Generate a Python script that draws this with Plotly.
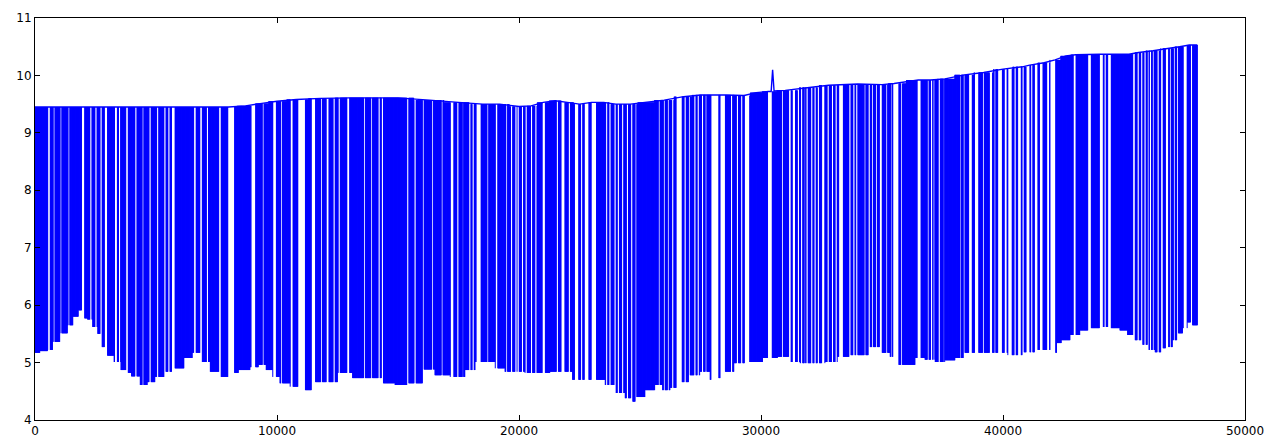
import numpy as np
import plotly.graph_objects as go

# ---- data ----
# upper envelope of the signal (x, value)
top_x = [0, 8000, 8700, 9300, 10000, 10800, 11800, 13000, 15000, 16300, 17500, 18500,
         19200, 20000, 20500, 21000, 21500, 22000, 22500, 23000, 23500, 24000, 24600,
         25200, 26000, 26800, 27500, 28500, 29300, 29800, 30300, 31000, 32000, 32800,
         34000, 35000, 35500, 36500, 37000, 37600, 38400, 39200, 40000, 40800, 41100,
         41700, 42150, 42600, 43000, 44000, 45200, 45600, 46200, 46800, 47300, 47700, 48030]
top_y = [9.45, 9.45, 9.47, 9.51, 9.55, 9.58, 9.60, 9.61, 9.61, 9.57, 9.53, 9.50,
         9.50, 9.46, 9.47, 9.53, 9.56, 9.53, 9.50, 9.53, 9.53, 9.50, 9.50,
         9.53, 9.57, 9.63, 9.66, 9.66, 9.65, 9.70, 9.72, 9.74, 9.79, 9.83,
         9.85, 9.84, 9.86, 9.92, 9.92, 9.94, 10.01, 10.05, 10.11, 10.15, 10.18,
         10.22, 10.27, 10.34, 10.36, 10.37, 10.37, 10.40, 10.43, 10.47, 10.50, 10.53, 10.53]

# short spike near x = 30500
spike_x = [30420, 30480, 30540]
spike_y = [9.72, 10.10, 9.73]

# lower envelope of the signal (x, value)
bot_x = [0, 413, 620, 826, 1240, 1446, 1694, 1900, 2066, 2273, 2480, 2686, 2810, 3099,
         3430, 3678, 3843, 4132, 4545, 4752, 5165, 5578, 5909, 6405, 6611, 7024, 7438,
         7851, 8140, 8677, 9090, 9380, 9710, 9917, 10330, 10743, 11363, 11776, 12189,
         12809, 13429, 14049, 14669, 15082, 15702, 16321, 16735, 17561, 17974, 18387,
         18801, 19214, 19627, 20040, 20453, 21073, 21486, 21900, 22519, 22933, 23346,
         23759, 24172, 24585, 24709, 25000, 25413, 25826, 26033, 26446, 26860, 27273,
         27686, 28099, 28388, 28636, 29132, 29752, 30372, 30992, 31405, 31818, 32438,
         32851, 33471, 33884, 34298, 34711, 35124, 35537, 35744, 36157, 36570, 36983,
         37397, 37810, 38223, 38636, 39256, 39876, 40496, 41115, 41735, 42149, 42273,
         42562, 42975, 43388, 43802, 44215, 44628, 45041, 45248, 45661, 45868, 46074,
         46487, 46694, 46901, 47107, 47314, 47521, 47727, 47934]
bot_y = [5.17, 5.20, 5.22, 5.36, 5.51, 5.65, 5.80, 5.91, 5.77, 5.75, 5.62, 5.50, 5.27, 5.12,
         5.01, 4.87, 4.82, 4.76, 4.61, 4.66, 4.75, 4.84, 4.90, 5.08, 5.17, 5.01, 4.84,
         4.75, 4.82, 4.87, 4.92, 4.96, 4.87, 4.75, 4.64, 4.58, 4.52, 4.66, 4.66,
         4.82, 4.73, 4.73, 4.64, 4.61, 4.64, 4.88, 4.78, 4.75, 4.87, 5.01,
         5.01, 4.90, 4.84, 4.84, 4.82, 4.82, 4.84, 4.84, 4.70, 4.70, 4.70,
         4.61, 4.47, 4.38, 4.32, 4.40, 4.52, 4.61, 4.52, 4.56, 4.66, 4.78,
         4.84, 4.70, 4.73, 4.84, 4.99, 5.01, 5.08, 5.10, 5.01, 4.99, 4.99,
         5.01, 5.10, 5.13, 5.13, 5.27, 5.17, 5.10, 4.96, 4.96, 5.08, 5.05,
         5.01, 5.04, 5.08, 5.17, 5.17, 5.17, 5.13, 5.18, 5.22, 5.17, 5.34,
         5.39, 5.48, 5.56, 5.60, 5.62, 5.60, 5.56, 5.48, 5.39, 5.31, 5.22,
         5.18, 5.25, 5.27, 5.39, 5.51, 5.60, 5.70, 5.65]

# stretches where the signal stays on the upper envelope (white stripes), (start, end)
gaps = [(548, 610), (775, 795), (1064, 1085), (1395, 1415), (1942, 2025), (2293, 2335),
        (2500, 2541), (2706, 2748), (2892, 2975), (3306, 3388), (3471, 3512), (3770, 3833),
        (4153, 4194), (4442, 4483), (4731, 4773), (5049, 5091), (5347, 5396), (5520, 5553),
        (5669, 5768), (6586, 6636), (6834, 6884), (7099, 7140), (7620, 7669), (7996, 8223),
        (8954, 9090), (9421, 9446), (9847, 9958), (10181, 10206), (10566, 10648),
        (10880, 11157), (11433, 11570), (11835, 11860), (12053, 12119),
        (12334, 12375), (12553, 12594), (12913, 12974), (13594, 13619), (13892, 13933),
        (14206, 14247), (14330, 14371), (15380, 15421), (15681, 15722), (16032, 16057),
        (16412, 16453), (16805, 16830), (17177, 17284), (17458, 17499), (17672, 17697),
        (17954, 17995), (18090, 18131), (18251, 18416), (18705, 18730), (19049, 19103),
        (19478, 19503), (19677, 19718), (19855, 19896), (19949, 19990), (20131, 20172),
        (20268, 20309),
        (20503, 20545), (20676, 20726), (20978, 21073), (21561, 21602), (21763, 21870),
        (22057, 22098), (22313, 22449), (22569, 22610), (22726, 22862), (23003, 23181),
        (23602, 23643), (23739, 23780), (23945, 23986), (24082, 24123), (24264, 24305),
        (24454, 24495),
        (24635, 24676), (24820, 24845), (25784, 25809), (25982, 26023), (26156, 26181),
        (26329, 26371), (26515, 26721), (26838, 26879), (27023, 27048), (27251, 27292),
        (27387, 27428), (27569, 27610), (27713, 27738), (27961, 28234), (28333, 28511),
        (28767, 28808), (28999, 29040), (29181, 29222), (29337, 29515), (30300, 30440),
        (30882, 30907), (31166, 31228), (31307, 31402), (31519, 31560), (31659, 31700),
        (31803, 31828), (31891, 31932), (32073, 32114), (32210, 32251), (32347, 32388),
        (32528, 32623), (32760, 32801),
        (32941, 32983), (33078, 33119), (33235, 33375), (33657, 33698), (33822, 33863),
        (33934, 33975), (34282, 34307), (34454, 34495), (34599, 34624), (34765, 34789),
        (34915, 34985), (35180, 35205), (35387, 35412), (35466, 35672), (35800, 35825),
        (36477, 36590), (36899, 36924),
        (37031, 37072), (37134, 37159), (37345, 37386), (37548, 37572), (38237, 38262),
        (38374, 38399), (38606, 38705), (38842, 38978), (39171, 39196), (39461, 39544),
        (39647, 39688), (39804, 39945), (40080, 40151), (40217, 40357), (40474, 40515),
        (40630, 40730), (40816, 40857), (40977, 41085),
        (41163, 41205), (41320, 41415), (41527, 41638), (41829, 41899), (41962, 42149),
        (42926, 42996), (43522, 43621), (44006, 44118), (44193, 44235), (44349, 44448),
        (45385, 45439), (45567, 45609), (45708, 45749), (45844, 45885), (45989, 46014),
        (46080, 46121), (46196, 46221), (46394, 46435), (46534, 46600), (46733, 46828),
        (46894, 46919), (47059, 47084), (47195, 47220), (47471, 47579), (47774, 47815)]

x_end = 48030
x_ticks = [0, 10000, 20000, 30000, 40000, 50000]
y_ticks = [4, 5, 6, 7, 8, 9, 10, 11]

# ---- build the drawn signal: downward excursions outside the gap stretches ----
step = 15
pad = 16
xs = np.arange(0, x_end + 1, step)
keep = np.ones(xs.shape, dtype=bool)
for s, e in gaps:
    keep &= ~((xs >= s - pad) & (xs <= e + pad))
xs = xs[keep]

tx = np.array(top_x, dtype=float)
ty = np.array(top_y, dtype=float)
bx = np.array(bot_x, dtype=float)
by = np.array(bot_y, dtype=float)
top_at = ty[np.abs(tx[None, :] - xs[:, None]).argmin(axis=1)]
bot_at = by[np.abs(bx[None, :] - xs[:, None]).argmin(axis=1)]

dx, dy = [], []
for x, t, b in zip(xs, top_at, bot_at):
    dx += [x, x, None]
    dy += [t, b, None]

# upper line including the spike
ux = top_x[:30] + spike_x + top_x[30:]
uy = top_y[:30] + spike_y + top_y[30:]
order = np.argsort(ux)
ux = [ux[i] for i in order]
uy = [uy[i] for i in order]

fig = go.Figure()
fig.add_trace(go.Scatter(x=dx, y=dy, mode="lines",
                         line=dict(color="#0000ff", width=1, simplify=False),
                         hoverinfo="skip", showlegend=False))
fig.add_trace(go.Scatter(x=ux, y=uy, mode="lines",
                         line=dict(color="#0000ff", width=1.4, simplify=False),
                         hoverinfo="skip", showlegend=False))

axis_common = dict(showgrid=False, zeroline=False, showline=True, linecolor="black",
                   linewidth=1, mirror="allticks", ticks="inside", ticklen=5,
                   tickcolor="black", automargin=False,
                   tickfont=dict(family="DejaVu Sans", size=12, color="black"))
fig.update_xaxes(range=[0, 50000], tickvals=x_ticks, ticktext=[str(v) for v in x_ticks],
                 **axis_common)
fig.update_yaxes(range=[4, 11], tickvals=y_ticks, ticktext=[str(v) for v in y_ticks],
                 **axis_common)
fig.update_layout(width=1266, height=441, margin=dict(l=35, r=21, t=18, b=21),
                  plot_bgcolor="white", paper_bgcolor="white")
fig.write_html("out.html", config={"displayModeBar": False},
               post_script="document.body.style.margin='0';document.body.style.overflow='hidden';")
